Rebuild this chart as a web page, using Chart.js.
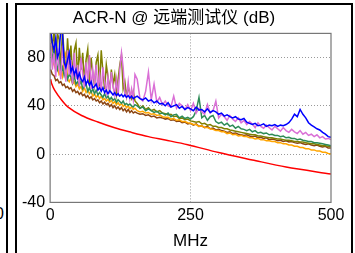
<!DOCTYPE html>
<html>
<head>
<meta charset="utf-8">
<script src="https://cdn.jsdelivr.net/npm/chart.js@4.4.1/dist/chart.umd.min.js"></script>
<style>
  html, body { margin: 0; padding: 0; background: #fff; }
  body { width: 355px; height: 253px; position: relative; overflow: hidden;
         font-family: "Liberation Sans", Arial, "Noto Sans CJK SC", sans-serif; }
  #leftPanel { position: absolute; left: -40px; top: 3px; width: 46px; height: 260px;
               border-right: 2px solid #000; overflow: hidden; }
  #leftPanel span { position: absolute; right: 2px; top: 202px; font-size: 16px; }
  #panel { position: absolute; left: 15px; top: 3px; width: 338px; height: 262px;
           border: 2px solid #000; box-sizing: border-box; }
  #wrap { position: absolute; left: 0; top: 0; width: 334px; height: 248px; }
</style>
</head>
<body>
<div id="leftPanel"><span>500</span></div>
<div id="panel"><div id="wrap"><canvas id="grafico"></canvas></div></div>
<script>
// frequências (MHz) comuns às medições
const freqMHz = [1, 4, 7, 10, 13, 16, 19, 22, 25, 28, 31, 34, 37, 40, 43, 46, 49, 52, 55, 58,
  61, 64, 67, 70, 73, 76, 79, 82, 85, 88, 91, 94, 97, 100, 103, 106, 109, 112, 115, 118,
  121, 124, 127, 130, 133, 136, 139, 142, 145, 148, 151,
  155, 160, 165, 170, 175, 180, 185, 190, 195, 200, 205, 210, 215, 220, 225, 230, 235, 240, 245, 250,
  255, 260, 265, 270, 275, 280, 285, 290, 295, 300, 305, 310, 315, 320, 325, 330, 335, 340, 345, 350,
  355, 360, 365, 370, 375, 380, 385, 390, 395, 400, 405, 410, 415, 420, 425, 430, 435, 440, 445, 450,
  455, 460, 465, 470, 475, 480, 485, 490, 495, 500];

const acrBlue = [102, 92, 86, 96, 80, 84, 104, 100, 76, 72, 78, 84, 68, 72, 66, 70, 63, 67, 62, 60,
  64, 58, 61, 57, 60, 55, 56, 58, 53, 55, 52, 55, 51, 53, 50, 52.5, 51, 49, 51, 48.5,
  50, 48, 49.5, 47.5, 49, 47, 48.5, 46.5, 48, 46, 47,
  48, 46, 45, 46.5, 44, 45, 42.5, 44, 41.5, 42, 40, 42.5, 39, 40, 41, 38, 39.5, 37, 38.5, 37.5,
  36, 39, 36.5, 37, 35, 37.5, 34.5, 36, 35, 33, 34, 31.5, 32.5, 31, 30, 31, 29, 28.5, 29.5, 26.5,
  25.5, 24.5, 25.5, 23.5, 24, 25, 23, 24, 23.5, 24.5, 23, 24, 23.5, 24.5, 26, 29, 33, 31, 37, 33,
  30, 26, 24, 22.5, 21, 20, 18, 16.5, 14.5, 14];

const acrViolet = [92, 70, 84, 64, 88, 72, 62, 90, 76, 60, 86, 66, 78, 58, 84, 62, 74, 56, 80, 66,
  55, 76, 60, 82, 54, 70, 58, 74, 53, 66, 52, 72, 60, 51, 64, 50, 68, 56, 49, 62,
  48, 70, 84, 72, 50, 47, 60, 46, 54, 45, 66,
  62, 46, 44, 52, 68, 45, 58, 43, 47, 41, 44, 40, 39, 48, 38, 42, 40, 37, 41, 36,
  42, 34, 38, 35, 33, 41, 34, 36, 44, 30, 33, 31, 28, 32, 29, 27, 30, 26, 28, 24.5,
  27, 25, 22, 26, 23, 21.5, 24, 22, 20, 23, 21, 19, 22, 19.5, 18, 20.5, 18.5, 17, 19.5, 16.5,
  18, 15.5, 16.5, 14.5, 16, 13.5, 14.5, 12.5, 13, 12];

const acrGreen = [90, 78, 86, 74, 70, 80, 68, 72, 65, 70, 62, 66, 64, 59, 65, 58, 60, 57, 61, 54,
  56, 58, 52, 55, 51, 54, 50, 53, 49, 51, 49, 47, 50, 46.5, 48, 45, 47, 44.5, 46, 43,
  45, 43.5, 42, 44, 41, 42, 40.5, 41.5, 40, 39, 41,
  40, 38, 39, 36, 37.5, 36, 34.5, 35.5, 33.5, 34, 32.5, 34, 31, 32.5, 33, 30, 31.5, 29.5, 30.5, 29,
  31, 36, 47, 30, 32, 28, 31, 32, 27, 25.5, 26.5, 24, 25.5, 23, 24, 21.5, 23, 21, 20.5, 19.5,
  20.5, 18.5, 19.5, 17.5, 18, 17, 17.5, 16, 16.5, 15.5, 15.5, 14.5, 15, 13.5, 14, 13, 13, 12, 12.5, 11.5,
  11, 10.5, 10.5, 9.5, 9.5, 9, 8.5, 8, 7.5, 7];

const acrOlive = [100, 88, 104, 72, 100, 95, 70, 104, 82, 66, 96, 74, 90, 64, 86, 92, 62, 88, 70, 84,
  60, 78, 87, 58, 80, 66, 57, 76, 82, 56, 86, 68, 54, 74, 64, 52, 70, 58, 66, 50,
  62, 74, 82, 54, 60, 48, 56, 50, 46, 52, 44,
  42, 38, 40, 37, 38.5, 36, 37, 35, 36, 34, 33.5, 32.5, 33, 31, 31.5, 29.5, 30, 28.5, 29, 27.5,
  27, 26.5, 27, 25, 25.5, 24, 24.5, 23, 23, 22, 22, 21, 21, 20, 19.5, 19, 18.5, 18, 17.5, 17,
  16.5, 16, 16, 15, 15, 14.5, 14, 13.5, 13.5, 13, 12.5, 12.5, 12, 11.5, 11.5, 11, 10.5, 10.5, 10, 10,
  9.5, 9, 8.5, 8.5, 8, 7.5, 7, 7, 6.5, 6];

const acrOrange = [84, 78, 74, 70, 72, 66, 68, 64, 80, 84, 62, 60, 63, 58, 60, 56, 58, 54, 56, 52,
  55, 51, 53, 50, 52, 48, 50, 47, 49, 46, 48, 45, 46, 44, 45.5, 43, 44.5, 42, 43.5, 41,
  42.5, 40.5, 42, 39.5, 41, 38.5, 40, 37.5, 39, 37, 38,
  36, 35, 35.5, 34, 34.5, 33, 33.5, 32, 32.5, 31, 30.5, 30.5, 29, 29.5, 28, 28.5, 27, 27, 26, 25.5,
  24.5, 24.5, 23, 23.5, 22, 22, 21, 20.5, 19.5, 19.5, 18.5, 18.5, 17, 17.5, 16, 16.5, 15, 15.5, 14.5, 14.5,
  13.5, 13.5, 12.5, 13, 12, 12, 11, 11, 10.5, 10.5, 9.5, 9.5, 8.5, 8.5, 7.5, 7.5, 6.5, 6.5, 5.5, 5.5,
  4.5, 4.5, 3.5, 3.5, 2.5, 2.5, 1.5, 1.5, 0.5, 0];

const acrBrown = [70, 66, 65, 61, 62, 59, 60, 57, 58, 55, 56, 54, 55, 52, 53.5, 51, 52, 49.5, 51, 48.5,
  49.5, 47, 48.5, 46, 47.5, 45, 46, 44, 45, 42.5, 44, 41.5, 43, 41, 42, 39.5, 41, 38.5, 40, 37.5,
  39, 37, 38.5, 36, 37.5, 35, 37, 34.5, 36, 34, 35,
  34, 33, 33.5, 32, 32.5, 31, 31.5, 30, 30.5, 30, 29, 29.5, 28, 28.5, 27, 27.5, 26, 26.5, 25, 25.5,
  24, 25, 23, 23.5, 22, 23, 21, 21.5, 20, 20.5, 19.5, 19, 18, 18.5, 17, 17.5, 16.5, 16, 15.5, 16,
  15, 14.5, 15, 13.5, 14, 13, 13.5, 12, 12.5, 12, 11, 11.5, 10.5, 11, 10, 10.5, 9.5, 9, 9.5, 8.5,
  8, 8.5, 7.5, 7, 7.5, 6.5, 6, 6.5, 5, 5];

// limite (linha vermelha)
const limiteFreq = [1, 3, 8, 20, 32, 56, 85, 115, 145, 175, 205, 245, 300, 360, 420, 500];
const limiteValores = [62, 58, 53, 45, 39, 32, 26.6, 21.8, 18, 14.5, 11.7, 7.8, 1.3, -4.8, -10.7, -16.5];

const ticksX = [0, 250, 500];
const ticksY = [-40, 0, 40, 80];

const fonte = '"Liberation Sans", Arial, "Noto Sans CJK SC", sans-serif';

function pontos(xs, ys) {
    return xs.map((x, i) => ({x: x, y: ys[i]}));
}

function serie(ys, cor) {
    return {
        data: pontos(freqMHz, ys),
        borderColor: cor,
        borderWidth: 1.5,
        pointRadius: 0,
        tension: 0
    };
}

// moldura cinza em volta da área do gráfico
const moldura = {
    id: 'moldura',
    afterDraw(chart) {
        const a = chart.chartArea;
        const ctx = chart.ctx;
        ctx.save();
        ctx.strokeStyle = '#777';
        ctx.lineWidth = 1.2;
        ctx.strokeRect(a.left, a.top, a.right - a.left, a.bottom - a.top);
        ctx.restore();
    }
};

const corGrade = (ctx) => {
    const v = ctx.tick ? ctx.tick.value : null;
    return (v === -40 || v === 0 && ctx.scale.axis === 'x' || v === 500) ? 'rgba(0,0,0,0)' : '#999';
};

const ctx = document.getElementById('grafico').getContext('2d');
const grafico = new Chart(ctx, {
    type: 'line',
    data: {
        datasets: [
            serie(acrBlue, '#0000ff'),
            serie(acrViolet, '#da70d6'),
            serie(acrGreen, '#2e8b57'),
            serie(acrOlive, '#808000'),
            serie(acrOrange, '#ffa500'),
            serie(acrBrown, '#8b4513'),
            {
                data: pontos(limiteFreq, limiteValores),
                borderColor: '#ff0000',
                borderWidth: 1.5,
                pointRadius: 0,
                tension: 0.3
            }
        ]
    },
    options: {
        animation: false,
        responsive: true,
        maintainAspectRatio: false,
        layout: {padding: {left: 0, right: 20, top: 0, bottom: 1}},
        plugins: {
            legend: {display: false},
            tooltip: {enabled: false},
            title: {
                display: true,
                text: 'ACR-N @ 远端测试仪 (dB)',
                color: '#000',
                font: {family: fonte, size: 17, weight: 'normal'},
                padding: {top: 3, bottom: 5}
            }
        },
        scales: {
            x: {
                type: 'linear',
                min: 0,
                max: 500,
                afterBuildTicks: (axis) => { axis.ticks = ticksX.map(v => ({value: v})); },
                ticks: {color: '#000', font: {family: fonte, size: 16}, maxRotation: 0, padding: 4},
                grid: {color: corGrade, drawTicks: false, lineWidth: 1},
                border: {display: false, dash: [1, 2]},
                title: {display: true, text: 'MHz', color: '#000',
                        font: {family: fonte, size: 17}, padding: {top: 2, bottom: 0}}
            },
            y: {
                min: -40,
                max: 100,
                afterBuildTicks: (axis) => { axis.ticks = ticksY.map(v => ({value: v})); },
                ticks: {color: '#000', font: {family: fonte, size: 16}, padding: 5},
                grid: {color: corGrade, drawTicks: false, lineWidth: 1},
                border: {display: false, dash: [1, 2]}
            }
        }
    },
    plugins: [moldura]
});
</script>
</body>
</html>
